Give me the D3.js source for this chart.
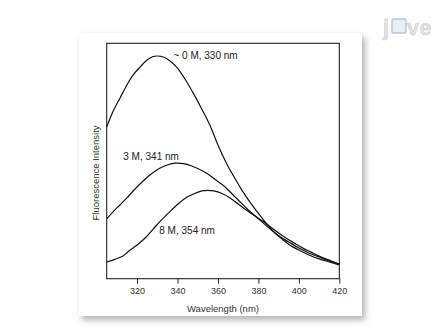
<!DOCTYPE html>
<html>
<head>
<meta charset="utf-8">
<script src="https://cdn.jsdelivr.net/npm/d3@7"></script>
<style>
  body { margin: 0; background: #fff; }
  svg { display: block; font-family: "Liberation Sans", Arial, sans-serif; }
  .tick text { fill: #333; }
</style>
</head>
<body>
<div id="chart"></div>
<script>
// wavelength (nm) and fluorescence intensity (arb. units, 0-100 frame)
const wl0 = [305, 308, 311.6, 315, 318, 321.5, 325, 328, 330, 333, 336, 340, 344, 348, 352, 356, 360, 364, 368, 372, 376, 380, 384, 388, 392, 396, 400, 405, 410, 415, 420];
const int0 = [64.4, 70.8, 76.8, 82.3, 86.5, 89.9, 92.9, 94.4, 94.6, 94.2, 92.7, 89.5, 84.4, 78.5, 72.1, 65.3, 56.8, 49.4, 43.2, 37.4, 32.3, 27.8, 23.4, 19.6, 16.6, 14.0, 12.2, 10.1, 8.4, 7.1, 5.8];

const wl3 = [305, 308, 311, 315, 319, 323, 327, 331, 335, 339, 343, 347, 351, 355, 359, 363, 367, 371, 375, 379, 383, 387, 391, 395, 400, 405, 410, 415, 420];
const int3 = [25.4, 28.3, 30.9, 34.3, 38.1, 41.5, 44.5, 46.8, 48.3, 49.1, 48.9, 47.9, 46.4, 44.5, 41.9, 39.4, 36.0, 32.6, 29.2, 26.2, 23.2, 20.3, 17.7, 15.6, 13.0, 10.9, 9.2, 7.5, 6.2];

const wl8 = [305, 309, 313, 316, 320, 324, 328, 332, 336, 340, 344, 348, 352, 355, 358, 362, 366, 370, 374, 378, 382, 386, 390, 394, 398, 402, 406, 410, 415, 420];
const int8 = [7.1, 8.2, 9.6, 11.8, 14.3, 17.3, 21.1, 24.9, 28.3, 31.5, 34.3, 36.0, 37.3, 37.5, 37.3, 36.2, 34.3, 31.7, 29.2, 26.8, 24.5, 22.0, 19.4, 17.1, 15.0, 13.0, 11.3, 9.6, 7.9, 6.2];

const xTicks = [320, 340, 360, 380, 400, 420];
const labelText = ["~ 0 M, 330 nm", "3 M, 341 nm", "8 M, 354 nm"];
const labelWl = [338, 313.2, 331];
const labelInt = [93.3, 50.4, 19.0];

const W = 448, H = 336;
const margin = {top: 43.3, right: 448 - 339.3, bottom: 336 - 278.7, left: 106.7};

const svg = d3.select("#chart").append("svg")
    .attr("width", W)
    .attr("height", H);

// soft shadow for the figure card
const defs = svg.append("defs");
const f = defs.append("filter").attr("id", "shadow")
    .attr("x", "-10%").attr("y", "-10%").attr("width", "125%").attr("height", "125%");
f.append("feDropShadow")
    .attr("dx", 3).attr("dy", 4)
    .attr("stdDeviation", 3)
    .attr("flood-color", "#000")
    .attr("flood-opacity", 0.3);

svg.append("rect")
    .attr("x", 79).attr("y", 33)
    .attr("width", 283).attr("height", 283)
    .attr("fill", "#fff")
    .attr("filter", "url(#shadow)");

const x = d3.scaleLinear().domain([305, 420]).range([margin.left, W - margin.right]);
const y = d3.scaleLinear().domain([0, 100]).range([H - margin.bottom, margin.top]);

const line = d3.line()
    .x(d => x(d[0]))
    .y(d => y(d[1]))
    .curve(d3.curveCatmullRom);

const series = [
    d3.zip(wl0, int0),
    d3.zip(wl3, int3),
    d3.zip(wl8, int8)
];

svg.append("g").selectAll("path")
    .data(series)
    .enter().append("path")
    .attr("d", line)
    .attr("fill", "none")
    .attr("stroke", "#111")
    .attr("stroke-width", 1.2);

// frame
svg.append("rect")
    .attr("x", x(305)).attr("y", y(100))
    .attr("width", x(420) - x(305))
    .attr("height", y(0) - y(100))
    .attr("fill", "none")
    .attr("stroke", "#222")
    .attr("stroke-width", 1.1);

// x axis
const xAxis = svg.append("g")
    .attr("transform", `translate(0,${y(0)})`)
    .call(d3.axisBottom(x).tickValues(xTicks).tickSize(5).tickPadding(4).tickFormat(d3.format("d")));
xAxis.select(".domain").remove();
xAxis.selectAll(".tick line").attr("stroke", "#222");
xAxis.selectAll(".tick text")
    .style("font-size", "9px")
    .style("font-family", "'Liberation Sans', Arial, sans-serif");

svg.append("text")
    .attr("x", (x(305) + x(420)) / 2)
    .attr("y", 312)
    .attr("text-anchor", "middle")
    .style("font-size", "9.5px")
    .attr("fill", "#333")
    .text("Wavelength (nm)");

svg.append("text")
    .attr("transform", "translate(99,173) rotate(-90)")
    .attr("text-anchor", "middle")
    .style("font-size", "9.5px")
    .attr("fill", "#333")
    .text("Fluorescence Intensity");

// curve labels
svg.append("g").selectAll("text")
    .data(labelText)
    .enter().append("text")
    .attr("x", (d, i) => x(labelWl[i]))
    .attr("y", (d, i) => y(labelInt[i]))
    .style("font-size", "10px")
    .attr("fill", "#222")
    .text(d => d);

// jove logo, top right
const logo = svg.append("g").attr("opacity", 0.8);
logo.append("text")
    .attr("x", 383).attr("y", 35)
    .style("font-size", "22px")
    .style("font-weight", "bold")
    .attr("fill", "#dadada")
    .attr("stroke", "#c4c4c4")
    .attr("stroke-width", 0.5)
    .text("j");
logo.append("rect")
    .attr("x", 392).attr("y", 19)
    .attr("width", 14).attr("height", 14)
    .attr("rx", 1.5)
    .attr("fill", "#e6eaf2")
    .attr("stroke", "#aab8d6")
    .attr("stroke-width", 1.5);
logo.append("text")
    .attr("x", 407).attr("y", 35)
    .style("font-size", "22px")
    .style("font-weight", "bold")
    .attr("fill", "#dadada")
    .attr("stroke", "#c4c4c4")
    .attr("stroke-width", 0.5)
    .text("ve");
</script>
</body>
</html>
